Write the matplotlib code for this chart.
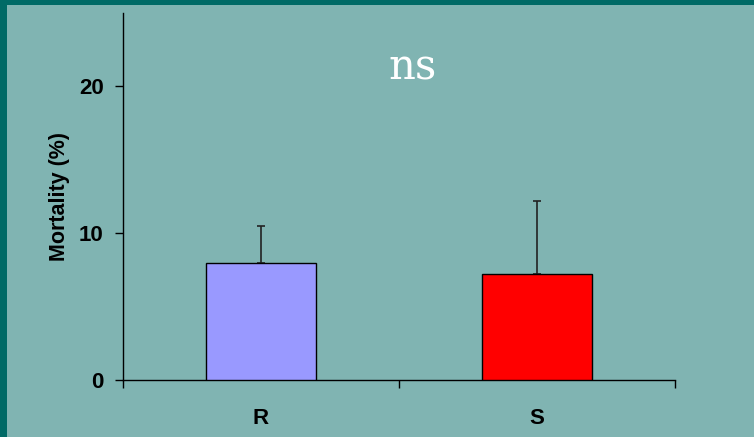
import matplotlib
matplotlib.use("Agg")
import matplotlib.pyplot as plt
from matplotlib.patches import Rectangle

categories = ["R", "S"]
mortality = [8.0, 7.2]
err_upper = [2.5, 5.0]
bar_colors = ["#9999FF", "#FF0000"]
annotation = "ns"

bg = "#80B4B2"
border = "#006A66"

fig = plt.figure(figsize=(7.54, 4.37), dpi=100, facecolor=bg)
ax = fig.add_axes([123/754, 1-380/437, (675-123)/754, (380-13)/437])
ax.set_facecolor(bg)

x = [0.5 + i for i in range(len(categories))]
ax.bar(x, mortality, width=0.4, color=bar_colors, edgecolor="black", linewidth=1.0, zorder=3)
ax.errorbar(x, mortality, yerr=[[0]*len(mortality), err_upper], fmt="none",
            ecolor="#222222", elinewidth=1.2, capsize=3, capthick=1.2, zorder=2)

ax.set_xlim(0, 2)
ax.set_ylim(0, 25)
ax.set_yticks([0, 10, 20])
ax.set_xticks(x)
ax.set_xticklabels(categories)
ax.set_xticks([0, 1, 2], minor=True)
ax.tick_params(axis="x", which="major", length=0, pad=20)
ax.tick_params(axis="x", which="minor", length=6, width=1, direction="out")
ax.tick_params(axis="y", length=6, width=1, direction="out", pad=8)
for lbl in ax.get_xticklabels() + ax.get_yticklabels():
    lbl.set_fontfamily("Liberation Sans")
    lbl.set_fontweight("bold")
    lbl.set_fontsize(16)

ax.spines["top"].set_visible(False)
ax.spines["right"].set_visible(False)
ax.spines["left"].set_linewidth(1)
ax.spines["bottom"].set_linewidth(1)

ax.set_ylabel("Mortality (%)", fontfamily="Liberation Sans", fontweight="bold",
              fontsize=15.5, labelpad=6)

ax.text(1.05, 21.3, annotation, fontfamily="DejaVu Serif", fontsize=30,
        color="white", ha="center", va="center")

fig.patches.append(Rectangle((0, 0), 7/754, 1, transform=fig.transFigure,
                             facecolor=border, edgecolor="none", zorder=10))
fig.patches.append(Rectangle((0, 1-5/437), 1, 5/437, transform=fig.transFigure,
                             facecolor=border, edgecolor="none", zorder=10))

fig.savefig("out.png", dpi=100, facecolor=bg)
